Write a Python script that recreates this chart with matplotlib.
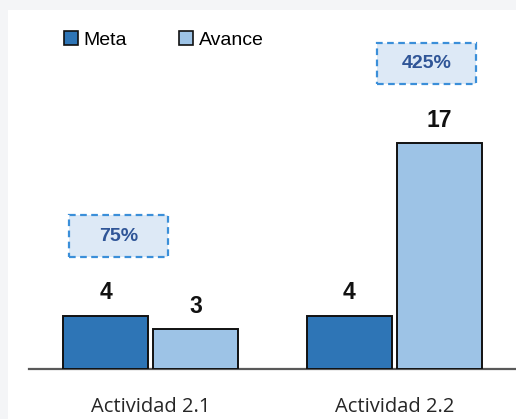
import numpy as np
import matplotlib
matplotlib.use('Agg')
from matplotlib import pyplot as plt
from matplotlib.patches import Rectangle, Patch

categorias = ['Actividad 2.1', 'Actividad 2.2']
meta = [4, 4]
avance = [3, 17]
series = ['Meta', 'Avance']

c_meta = '#2e75b6'
c_avance = '#9dc3e6'

fig = plt.figure(figsize=(5.16, 4.19), dpi=100)
fig.patch.set_facecolor('#f4f5f7')
# white panel behind the chart
bg = fig.add_axes([8 / 516, 0, 1 - 8 / 516, 1 - 10 / 419], zorder=-1)
bg.axis('off')
bg.add_patch(Rectangle((0, 0), 1, 1, transform=bg.transAxes, facecolor='white', edgecolor='none'))

ax = fig.add_axes([29 / 516, 50 / 419, 487 / 516, 359 / 419])
ax.set_facecolor('none')

x = np.arange(len(categorias))
w = 0.35
off = 0.185
b1 = ax.bar(x - off, meta, w, color=c_meta, edgecolor='#111111', linewidth=1.4, zorder=3)
b2 = ax.bar(x + off, avance, w, color=c_avance, edgecolor='#111111', linewidth=1.4, zorder=3)

for bars, vals in ((b1, meta), (b2, avance)):
    for r, v in zip(bars, vals):
        ax.annotate(str(v), (r.get_x() + r.get_width() / 2, v), xytext=(0, 16.5),
                    textcoords='offset points', ha='center', va='center',
                    fontsize=16.5, fontweight='bold', family='Liberation Sans', color='#111111')

# porcentaje de avance
box_x = [-0.132, 1.132]
box_y = [10, 23]
bw, bh = 0.406, 3.1
for i in range(len(categorias)):
    pct = round(avance[i] / meta[i] * 100)
    ax.add_patch(Rectangle((box_x[i] - bw / 2, box_y[i] - bh / 2), bw, bh,
                           facecolor='#dde9f6', edgecolor='#3b8fd9', linewidth=1.6,
                           linestyle=(0, (3, 2)), zorder=4, clip_on=False))
    ax.text(box_x[i], box_y[i], '%d%%' % pct, ha='center', va='center', fontsize=14,
            fontweight='bold', family='Liberation Sans', color='#2f5597', zorder=5)

ax.set_xlim(-0.5, 1.5)
ax.set_ylim(0, 27)
ax.set_xticks(x)
ax.set_xticklabels(categorias, family='Open Sans', fontsize=14.5, color='#262626')
ax.tick_params(axis='x', length=0, pad=20)
ax.set_yticks([])
for s in ('top', 'right', 'left'):
    ax.spines[s].set_visible(False)
ax.spines['bottom'].set_color('#595959')
ax.spines['bottom'].set_linewidth(1.6)

handles = [Patch(facecolor=c_meta, edgecolor='#111111', linewidth=1.2),
           Patch(facecolor=c_avance, edgecolor='#111111', linewidth=1.2)]
fig.legend(handles, series, loc='center left', bbox_to_anchor=(64 / 516, 1 - 40 / 419),
           ncol=2, frameon=False, borderpad=0, borderaxespad=0, handlelength=0.7,
           handleheight=0.7, handletextpad=0.3, columnspacing=2.7,
           prop={'family': 'Liberation Sans', 'size': 14})

fig.savefig('out.png', dpi=100, facecolor=fig.get_facecolor())
